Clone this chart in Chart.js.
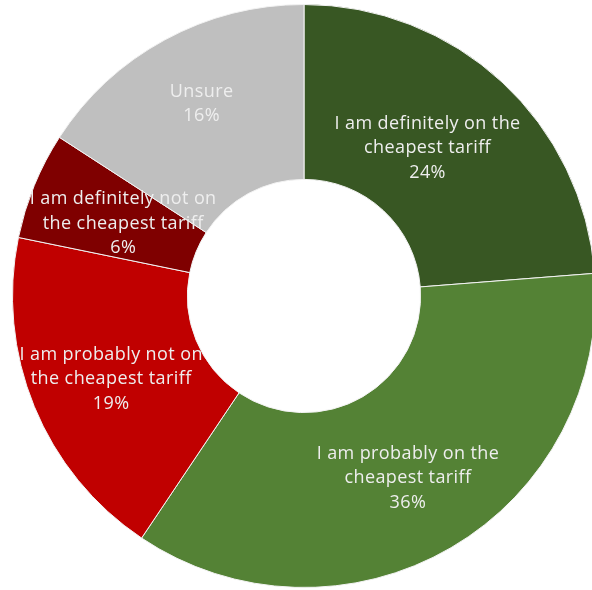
<!DOCTYPE html>
<html lang="en">
<head>
    <meta charset="UTF-8">
    <title>Cheapest tariff</title>
    <script src="https://cdn.jsdelivr.net/npm/chart.js@4.4.1/dist/chart.umd.min.js"></script>
    <style>
        html, body {
            margin: 0;
            padding: 0;
            background: #fff;
            overflow: hidden;
        }

        #wrap {
            position: absolute;
            left: 12px;
            top: 4px;
            width: 584px;
            height: 584px;
        }
    </style>
</head>
<body>

<div id="wrap"><canvas id="myChart"></canvas></div>

<script>
    // survey answers, clockwise from 12 o'clock
    var categories = [
        ['I am definitely on the', 'cheapest tariff'],
        ['I am probably on the', 'cheapest tariff'],
        ['I am probably not on', 'the cheapest tariff'],
        ['I am definitely not on', 'the cheapest tariff'],
        ['Unsure']
    ];
    var shares = [24, 36, 19, 6, 16];
    var sliceColors = ['#385723', '#548235', '#C00000', '#7F0000', '#BFBFBF'];

    // small nudges so the labels sit where Excel put them
    var labelNudge = [[-15, 2], [1, 6], [-4, 6], [8, 5], [-5, -13]];

    var sliceLabels = {
        id: 'sliceLabels',
        afterDatasetsDraw: function(chart) {
            var ctx = chart.ctx;
            var meta = chart.getDatasetMeta(0);
            ctx.save();
            ctx.font = '18px "Open Sans", Lato, sans-serif';
            ctx.letterSpacing = '0.4px';
            ctx.fillStyle = '#eeeeee';
            ctx.textAlign = 'center';
            ctx.textBaseline = 'middle';
            var lineH = 24.5;
            meta.data.forEach(function(arc, i) {
                var p = arc.getCenterPoint();
                var lines = categories[i].concat([shares[i] + '%']);
                var x = p.x + labelNudge[i][0];
                var y0 = p.y + labelNudge[i][1] - (lines.length - 1) * lineH / 2;
                lines.forEach(function(t, j) {
                    ctx.fillText(t, x, y0 + j * lineH);
                });
            });
            ctx.restore();
        }
    };

    var ctx = document.getElementById('myChart').getContext('2d');
    var myChart = new Chart(ctx, {
        type: 'doughnut',
        data: {
            labels: categories.map(function(c) { return c.join(' '); }),
            datasets: [{
                data: shares,
                backgroundColor: sliceColors,
                borderColor: '#f2f2f2',
                borderWidth: 1
            }]
        },
        options: {
            responsive: true,
            maintainAspectRatio: false,
            animation: false,
            cutout: '40%',
            layout: { padding: 0 },
            plugins: {
                legend: { display: false },
                tooltip: { enabled: false }
            }
        },
        plugins: [sliceLabels]
    });
</script>

</body>
</html>
